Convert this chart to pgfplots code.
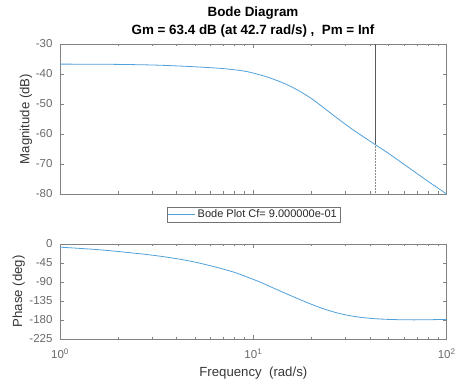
\documentclass[border=0pt]{standalone}
\usepackage{fontspec}
\setmainfont{Liberation Sans}
\usepackage{pgfplots}
\usepackage{pgfplotstable}
\pgfplotsset{compat=1.18}
\definecolor{mblue}{RGB}{80,160,218}
\definecolor{axgray}{RGB}{130,130,130}
\definecolor{tickgray}{RGB}{105,105,105}
\definecolor{labgray}{RGB}{55,55,55}

\pgfplotstableread{
w mag
1 -36.7
1.5 -36.75
2 -36.8
3 -37.0
4 -37.3
5 -37.6
6 -37.9
7 -38.2
8 -38.6
9 -39.05
10 -39.7
12.17 -41.3
15.43 -44.0
19.57 -47.8
24.82 -52.8
31.48 -57.8
39.92 -62.3
50.63 -66.7
64.2 -71.4
81.4 -76.1
100 -80.0
}\magdata

\pgfplotstableread{
w ph
1 -7.5
1.5 -12.7
2 -17.8
3 -26.5
4 -34.7
5 -43
6 -51.5
7 -59.5
8 -67.3
8.53 -71.8
10.8 -90.0
13.7 -111.0
17.4 -131.5
22.1 -150.5
28 -164.8
35.5 -173.4
45.1 -177.6
57.1 -179.3
72.4 -179.6
100 -178.6
}\phdata

\pgfplotsset{bodeax/.style={
  scale only axis, width=386.7pt, xmin=1, xmax=100,
  axis line style={axgray, line width=0.5pt},
  tick style={axgray, line width=0.4pt},
  tick align=inside, xtick pos=both, ytick pos=both,
  major tick length=4pt, minor tick length=2.5pt,
  xtick={1,10,100},
  minor xtick={2,3,4,5,6,7,8,9,20,30,40,50,60,70,80,90},
  tick label style={font=\fontsize{11.5}{13}\selectfont, text=tickgray},
  label style={font=\fontsize{13.2}{15}\selectfont, text=labgray},
  /pgf/number format/assume math mode=true,
  yticklabel style={xshift=-4pt},
  xticklabel style={yshift=-6pt},
}}

\begin{document}
\begin{tikzpicture}
\useasboundingbox (-60pt,44pt) rectangle (401pt,-341pt);
\begin{axis}[xmode=log, bodeax,
  at={(0pt,0pt)}, anchor=north west, height=150pt,
  ymin=-80, ymax=-30, ytick={-80,-70,-60,-50,-40,-30},
  xticklabels={},
  ylabel={Magnitude (dB)},
  ylabel style={at={(axis description cs:-0.0879,0.5)}, anchor=center},
  legend style={at={(0.5,-0.137)}, anchor=center, draw=black!55, fill=white,
    font=\fontsize{11}{13}\selectfont, text=black!85,
    inner xsep=1pt, inner ysep=0pt, nodes={inner xsep=2pt, inner ysep=3pt}},
  legend cell align=left,
  legend image code/.code={\draw[#1] (0pt,0pt) -- (27pt,0pt);},
]
\addplot[mblue, line width=0.8pt, smooth, tension=0.6] table[x=w, y=mag] {\magdata};
\addlegendentry{Bode Plot Cf= 9.000000e-01}
\addplot[black!65, line width=0.6pt, forget plot] coordinates {(42.7,-30) (42.7,-63.4)};
\addplot[black!45, line width=0.5pt, densely dotted, forget plot] coordinates {(42.7,-63.4) (42.7,-80)};
\end{axis}
\begin{axis}[xmode=log, bodeax,
  at={(0pt,-200pt)}, anchor=north west, height=95pt,
  ymin=-225, ymax=0, ytick={-225,-180,-135,-90,-45,0},
  xticklabels={10\textsuperscript{0},10\textsuperscript{1},10\textsuperscript{2}},
  ylabel={Phase (deg)},
  ylabel style={at={(axis description cs:-0.1065,0.5)}, anchor=center},
  xlabel={Frequency\ \ (rad/s)},
  xlabel style={at={(axis description cs:0.5,0)}, yshift=-34.3pt, anchor=center},
]
\addplot[mblue, line width=0.8pt, smooth, tension=0.6] table[x=w, y=ph] {\phdata};
\end{axis}
\node[anchor=base, font=\bfseries\fontsize{13.4}{15}\selectfont] at (193pt,27pt) {Bode Diagram};
\node[anchor=base, font=\bfseries\fontsize{13.4}{15}\selectfont] at (193pt,9.5pt) {Gm = 63.4 dB (at 42.7 rad/s) ,\ \ Pm = Inf};
\end{tikzpicture}
\end{document}
